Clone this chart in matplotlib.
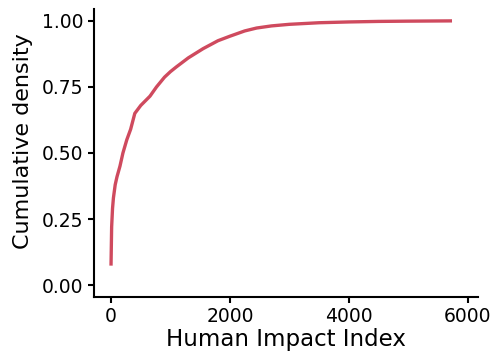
import matplotlib.pyplot as plt

# values
hii = [0, 10, 25, 40, 70, 100, 150, 200, 265, 330, 400, 500, 655, 765, 900,
       1000, 1100, 1300, 1550, 1800, 2000, 2250, 2450, 2700, 3000, 3500,
       4000, 4500, 5000, 5710]
cum_density = [0.08, 0.22, 0.29, 0.33, 0.38, 0.41, 0.45, 0.50, 0.55, 0.59,
               0.65, 0.68, 0.715, 0.75, 0.787, 0.808, 0.826, 0.86, 0.895,
               0.925, 0.942, 0.962, 0.973, 0.981, 0.987, 0.993, 0.996,
               0.998, 0.999, 1.0]

fig, ax = plt.subplots(figsize=(4.95, 3.6), dpi=100)
fig.subplots_adjust(left=0.19, right=0.965, bottom=0.175, top=0.975)

ax.plot(hii, cum_density, color='#cf4a5e', linewidth=2.4)

ax.set_xlim(-286, 6170)
ax.set_ylim(-0.045, 1.045)
ax.set_xticks([0, 2000, 4000, 6000])
ax.set_yticks([0, 0.25, 0.5, 0.75, 1.0])
ax.set_yticklabels(['0.00', '0.25', '0.50', '0.75', '1.00'])

ax.set_xlabel('Human Impact Index', fontsize=16.5, labelpad=1)
ax.set_ylabel('Cumulative density', fontsize=16)
ax.yaxis.set_label_coords(-0.16, 0.54)
ax.tick_params(labelsize=13.5, width=1.5, length=4)

for s in ['top', 'right']:
    ax.spines[s].set_visible(False)
for s in ['left', 'bottom']:
    ax.spines[s].set_linewidth(1.5)

plt.savefig('out.png', dpi=100)
